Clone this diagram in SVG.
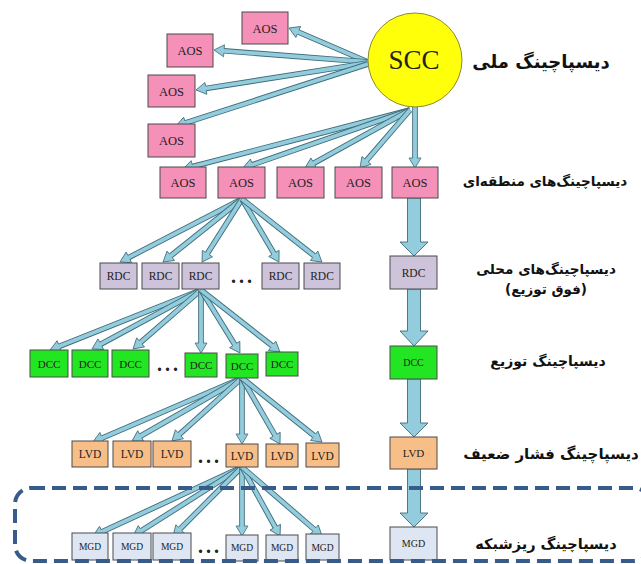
<svg xmlns="http://www.w3.org/2000/svg" width="641" height="564" viewBox="0 0 641 564">
<style>
.aos{fill:#F590B8;stroke:#4a4a4a;stroke-width:1}
.rdc{fill:#CDC3DB;stroke:#4a4a4a;stroke-width:1}
.dcc{fill:#22E622;stroke:#4a4a4a;stroke-width:1}
.lvd{fill:#F7BE88;stroke:#4a4a4a;stroke-width:1}
.mgd{fill:#DEE6F4;stroke:#4a4a4a;stroke-width:1}
.t{font-family:"Liberation Serif","DejaVu Serif",serif;fill:#222;text-anchor:middle}
.ta{font-size:12.5px}
.tr{font-size:11.5px}
.td{font-size:11px}
.tl{font-size:11.5px}
.tm{font-size:9.5px}
.dots{font-family:"Liberation Serif",serif;font-weight:bold;font-size:20px;fill:#222;text-anchor:middle;letter-spacing:3px}
.o{fill:none;stroke:#3f6b78;stroke-width:5.6}
.i{fill:none;stroke:#93CDDD;stroke-width:3.8;marker-end:url(#h)}
.big{fill:#93CDDD;stroke:#3f6b78;stroke-width:0.9}
.lab{font-family:"DejaVu Sans",sans-serif;font-weight:bold;fill:#111;text-anchor:middle;direction:rtl;unicode-bidi:embed}
</style>
<defs>
<marker id="h" markerUnits="userSpaceOnUse" markerWidth="14" markerHeight="16" refX="0" refY="7" orient="auto" overflow="visible">
<path d="M0,4.9 L0,1 L10,7 L0,13 L0,9.1" fill="#93CDDD" stroke="#3f6b78" stroke-width="0.8"/>
</marker>
</defs>
<rect width="641" height="564" fill="#fff"/>

<g id="connectors">
<path class="o" d="M368,62 L298.2,32"/><path class="i" d="M368,62 L298.2,32"/>
<path class="o" d="M368,62 L224,50.8"/><path class="i" d="M368,62 L224,50.8"/>
<path class="o" d="M368,63 L205.9,88.4"/><path class="i" d="M368,63 L205.9,88.4"/>
<path class="o" d="M368,64 L185.5,122.9"/><path class="i" d="M368,64 L185.5,122.9"/>

<path class="o" d="M410,110 L192.7,166.5"/><path class="i" d="M410,110 L192.7,166.5"/>
<path class="o" d="M410,110 L252.4,164.7"/><path class="i" d="M410,110 L252.4,164.7"/>
<path class="o" d="M410,110 L313.8,163.2"/><path class="i" d="M410,110 L313.8,163.2"/>
<path class="o" d="M410,110 L366.5,160.4"/><path class="i" d="M410,110 L366.5,160.4"/>
<path class="o" d="M415,104 L415,158"/><path class="i" d="M415,104 L415,158"/>

<path class="o" d="M242,199 L128.9,257.4"/><path class="i" d="M242,199 L128.9,257.4"/>
<path class="o" d="M242,199 L170.8,255.8"/><path class="i" d="M242,199 L170.8,255.8"/>
<path class="o" d="M242,199 L207.4,253.6"/><path class="i" d="M242,199 L207.4,253.6"/>
<path class="o" d="M242,199 L273.9,253.4"/><path class="i" d="M242,199 L273.9,253.4"/>
<path class="o" d="M242,199 L314.1,255.8"/><path class="i" d="M242,199 L314.1,255.8"/>

<path class="o" d="M201,290 L59.3,346.3"/><path class="i" d="M201,290 L59.3,346.3"/>
<path class="o" d="M201,290 L100.8,344.2"/><path class="i" d="M201,290 L100.8,344.2"/>
<path class="o" d="M201,290 L140.6,342.4"/><path class="i" d="M201,290 L140.6,342.4"/>
<path class="o" d="M201,290 L201,343"/><path class="i" d="M201,290 L201,343"/>
<path class="o" d="M201,290 L234.7,344.5"/><path class="i" d="M201,290 L234.7,344.5"/>
<path class="o" d="M201,290 L272.1,345.8"/><path class="i" d="M201,290 L272.1,345.8"/>

<path class="o" d="M242,378 L102.2,438"/><path class="i" d="M242,378 L102.2,438"/>
<path class="o" d="M242,378 L140.7,436"/><path class="i" d="M242,378 L140.7,436"/>
<path class="o" d="M242,378 L179.4,434.3"/><path class="i" d="M242,378 L179.4,434.3"/>
<path class="o" d="M242,378 L242,434"/><path class="i" d="M242,378 L242,434"/>
<path class="o" d="M242,378 L275,435.3"/><path class="i" d="M242,378 L275,435.3"/>
<path class="o" d="M242,378 L314.2,435.8"/><path class="i" d="M242,378 L314.2,435.8"/>

<path class="o" d="M242,467 L102.1,531.8"/><path class="i" d="M242,467 L102.1,531.8"/>
<path class="o" d="M242,467 L141.5,530.7"/><path class="i" d="M242,467 L141.5,530.7"/>
<path class="o" d="M242,467 L180.1,528.9"/><path class="i" d="M242,467 L180.1,528.9"/>
<path class="o" d="M242,467 L242,526"/><path class="i" d="M242,467 L242,526"/>
<path class="o" d="M242,467 L275.2,527.2"/><path class="i" d="M242,467 L275.2,527.2"/>
<path class="o" d="M242,467 L314.4,529.5"/><path class="i" d="M242,467 L314.4,529.5"/>

<path class="big" d="M407.5,198 H420.5 V242 H428 L414,256 L400,242 H407.5 Z"/>
<path class="big" d="M407.5,289 H420.5 V331 H428 L414,346 L400,331 H407.5 Z"/>
<path class="big" d="M407.5,379 H420.5 V423 H428 L414,437 L400,423 H407.5 Z"/>
<path class="big" d="M407.5,469 H420.5 V513 H428 L414,527 L400,513 H407.5 Z"/>
</g>

<g id="scc">
<circle cx="415" cy="60" r="47" fill="#FFFF0A" stroke="#8a8a3a" stroke-width="1"/>
<text class="t" x="414" y="69" font-size="27">SCC</text>
</g>

<g id="aos-t1"><rect class="aos" x="242" y="12" width="46" height="32"/><text class="t ta" x="265" y="32.5">AOS</text></g>
<g id="aos-t2"><rect class="aos" x="167" y="34" width="46" height="33"/><text class="t ta" x="190" y="55">AOS</text></g>
<g id="aos-t3"><rect class="aos" x="148" y="75" width="47" height="32"/><text class="t ta" x="171.5" y="95.5">AOS</text></g>
<g id="aos-t4"><rect class="aos" x="148" y="124" width="47" height="33"/><text class="t ta" x="171.5" y="145">AOS</text></g>

<g id="aos-1"><rect class="aos" x="160" y="167" width="46" height="31"/><text class="t ta" x="183" y="187">AOS</text></g>
<g id="aos-2"><rect class="aos" x="218" y="167" width="47" height="31"/><text class="t ta" x="241.5" y="187">AOS</text></g>
<g id="aos-3"><rect class="aos" x="277" y="167" width="47" height="31"/><text class="t ta" x="300.5" y="187">AOS</text></g>
<g id="aos-4"><rect class="aos" x="335" y="167" width="47" height="31"/><text class="t ta" x="358.5" y="187">AOS</text></g>
<g id="aos-5"><rect class="aos" x="392" y="167" width="46" height="31"/><text class="t ta" x="415" y="187">AOS</text></g>

<g id="rdc-1"><rect class="rdc" x="100" y="263" width="37" height="26"/><text class="t tr" x="118.5" y="280">RDC</text></g>
<g id="rdc-2"><rect class="rdc" x="142" y="263" width="37" height="26"/><text class="t tr" x="160.5" y="280">RDC</text></g>
<g id="rdc-3"><rect class="rdc" x="182" y="263" width="37" height="26"/><text class="t tr" x="200.5" y="280">RDC</text></g>
<g id="rdc-4"><rect class="rdc" x="262" y="263" width="37" height="26"/><text class="t tr" x="280.5" y="280">RDC</text></g>
<g id="rdc-5"><rect class="rdc" x="304" y="263" width="36" height="26"/><text class="t tr" x="322" y="280">RDC</text></g>
<g id="rdc-r"><rect class="rdc" x="390" y="256" width="47" height="33"/><text class="t tr" x="413.5" y="276.5">RDC</text></g>
<text class="dots" x="243" y="283">...</text>

<g id="dcc-1"><rect class="dcc" x="30" y="350" width="38" height="27"/><text class="t td" x="49" y="367.5">DCC</text></g>
<g id="dcc-2"><rect class="dcc" x="72" y="350" width="36" height="27"/><text class="t td" x="90" y="367.5">DCC</text></g>
<g id="dcc-3"><rect class="dcc" x="112" y="350" width="37" height="27"/><text class="t td" x="130.5" y="367.5">DCC</text></g>
<g id="dcc-4"><rect class="dcc" x="185" y="353" width="32" height="24"/><text class="t td" x="201" y="369">DCC</text></g>
<g id="dcc-5"><rect class="dcc" x="226" y="354" width="32" height="24"/><text class="t td" x="242" y="370">DCC</text></g>
<g id="dcc-6"><rect class="dcc" x="266" y="352" width="32" height="24"/><text class="t td" x="282" y="368">DCC</text></g>
<g id="dcc-r"><rect class="dcc" x="390" y="346" width="47" height="33"/><text class="t" font-size="10" x="413.5" y="366">DCC</text></g>
<text class="dots" x="169" y="371">...</text>

<g id="lvd-1"><rect class="lvd" x="72" y="441" width="36" height="26"/><text class="t tl" x="90" y="458">LVD</text></g>
<g id="lvd-2"><rect class="lvd" x="113" y="441" width="38" height="26"/><text class="t tl" x="132" y="458">LVD</text></g>
<g id="lvd-3"><rect class="lvd" x="153" y="441" width="38" height="26"/><text class="t tl" x="172" y="458">LVD</text></g>
<g id="lvd-4"><rect class="lvd" x="226" y="444" width="32" height="23"/><text class="t tl" x="242" y="460">LVD</text></g>
<g id="lvd-5"><rect class="lvd" x="266" y="444" width="32" height="23"/><text class="t tl" x="282" y="460">LVD</text></g>
<g id="lvd-6"><rect class="lvd" x="306" y="443" width="33" height="24"/><text class="t tl" x="322.5" y="459.5">LVD</text></g>
<g id="lvd-r"><rect class="lvd" x="390" y="437" width="47" height="32"/><text class="t" font-size="11" x="413.5" y="457">LVD</text></g>
<text class="dots" x="210" y="463">...</text>

<g id="mgd-1"><rect class="mgd" x="72" y="533" width="36" height="27"/><text class="t tm" x="90" y="549.5">MGD</text></g>
<g id="mgd-2"><rect class="mgd" x="113" y="533" width="38" height="27"/><text class="t tm" x="132" y="549.5">MGD</text></g>
<g id="mgd-3"><rect class="mgd" x="153" y="533" width="38" height="27"/><text class="t tm" x="172" y="549.5">MGD</text></g>
<g id="mgd-4"><rect class="mgd" x="226" y="535" width="32" height="26"/><text class="t tm" x="242" y="551">MGD</text></g>
<g id="mgd-5"><rect class="mgd" x="266" y="535" width="32" height="26"/><text class="t tm" x="282" y="551">MGD</text></g>
<g id="mgd-6"><rect class="mgd" x="306" y="534" width="33" height="26"/><text class="t tm" x="322.5" y="550.5">MGD</text></g>
<g id="mgd-r"><rect class="mgd" x="390" y="527" width="47" height="33"/><text class="t" font-size="10" x="413.5" y="547">MGD</text></g>
<text class="dots" x="210" y="553">...</text>

<rect id="microgrid-zone" x="15" y="488" width="635" height="73" rx="16" ry="16" fill="none" stroke="#375c8c" stroke-width="4" stroke-dasharray="14 7"/>

<g id="labels">
<text class="lab" x="541" y="68" font-size="18px">دیسپاچینگ ملی</text>
<text class="lab" x="545" y="186" font-size="13.5px">دیسپاچینگ‌های منطقه‌ای</text>
<text class="lab" x="546" y="274" font-size="13.5px">دیسپاچینگ‌های محلی</text>
<text class="lab" x="546" y="294" font-size="13.5px">(فوق توزیع)</text>
<text class="lab" x="548" y="366" font-size="14px">دیسپاچینگ توزیع</text>
<text class="lab" x="551" y="459" font-size="15px">دیسپاچینگ فشار ضعیف</text>
<text class="lab" x="546" y="549" font-size="14.5px">دیسپاچینگ ریزشبکه</text>
</g>
</svg>
